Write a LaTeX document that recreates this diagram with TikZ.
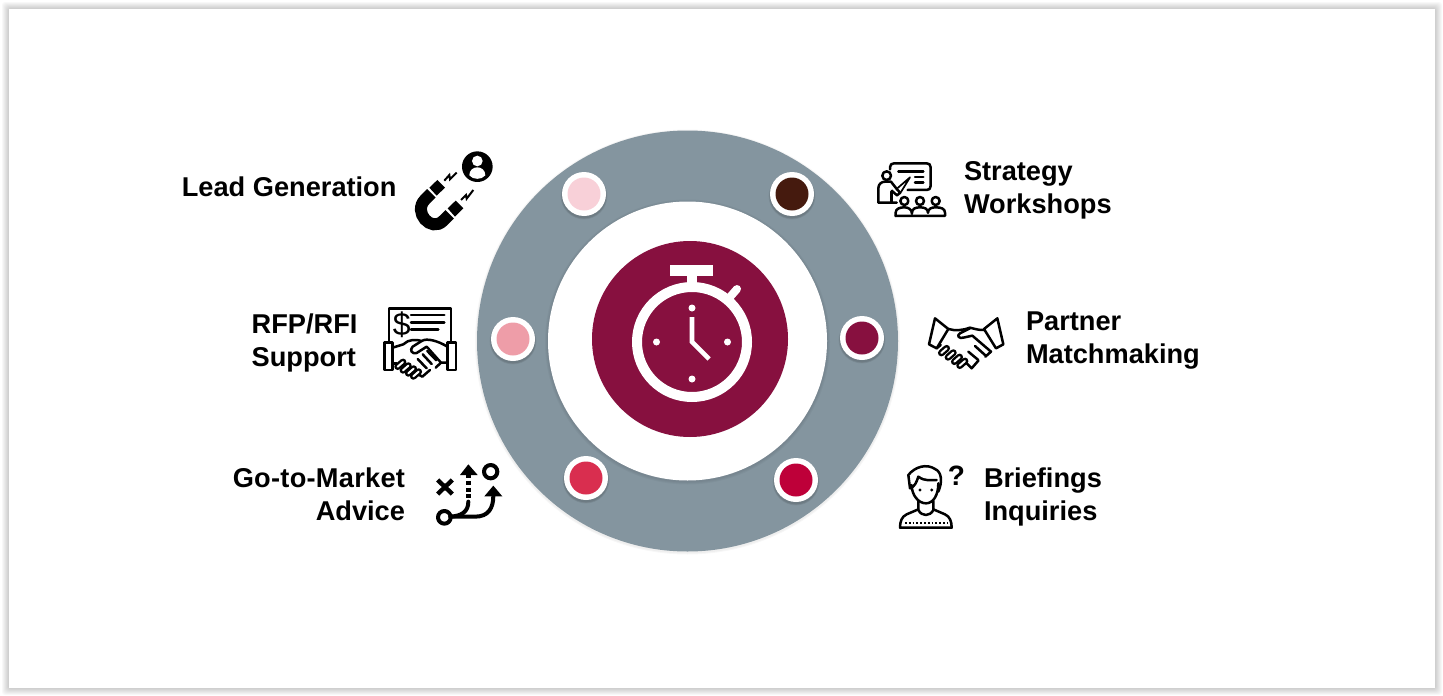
\documentclass[tikz,border=0pt]{standalone}
\usepackage{fontspec}
\setmainfont{Liberation Sans}
\begin{document}
\begin{tikzpicture}[x=1pt,y=-1pt,
  label/.style={font=\bfseries\fontsize{27.2}{33}\selectfont,inner sep=0pt,outer sep=0pt,text=black},
  dotwhite/.style={circle,fill=white,draw=none,minimum size=44pt,inner sep=0pt},
  dotcore/.style={circle,draw=none,minimum size=33pt,inner sep=0pt},
  ln/.style={line width=2.5pt,line cap=round,line join=round,draw=black},
  lnthin/.style={line width=1.7pt,line cap=round,line join=round,draw=black},
  lnthick/.style={line width=4pt,line cap=round,line join=round,draw=black},
  watch/.style={draw=white,line join=miter}]
\newcommand{\fingerlink}[2]{%
  \draw[black,line width=6.8pt,line cap=round] (#1-8,#2+7) -- (#1+8,#2-7);
  \draw[white,line width=2pt,line cap=round] (#1-8,#2+7) -- (#1+8,#2-7);}
\definecolor{ringgrey}{HTML}{84959F}
\definecolor{burg}{HTML}{87103F}
\definecolor{cA}{HTML}{F8D0D8}
\definecolor{cB}{HTML}{451A0E}
\definecolor{cC}{HTML}{87103F}
\definecolor{cD}{HTML}{EE9DA8}
\definecolor{cE}{HTML}{D92E4F}
\definecolor{cF}{HTML}{BE0039}
\useasboundingbox (0,0) rectangle (1443,696);
\fill[white] (0,0) rectangle (1443,696);
% page shadow
\foreach \d in {7,6,...,1}
  \fill[black,opacity=.028,rounded corners=3pt] (9-\d,9-\d) rectangle (1435+\d,688+\d);
\fill[white] (9,9) rectangle (1435,688);
% ring
\foreach \d in {2,1}
  \fill[black,opacity=.03] (687.5,342) circle[radius=210.5+\d];
\fill[ringgrey] (687.5,341) circle[radius=210.5];
\foreach \d in {3,2,1}
  \fill[black,opacity=.03] (687.5,342) circle[radius=139.5+\d];
\fill[white] (687.5,341) circle[radius=139.5];
\fill[burg] (690,339) circle[radius=98];
% stopwatch
\draw[watch,line width=10pt] (692,342) circle[radius=55];
\fill[white] (670,265) rectangle (713,276);
\fill[white] (687,275) rectangle (697,288);
\draw[white,line width=8pt,line cap=round] (730,297) -- (737,289);
\foreach \p in {(692,308),(692,379),(656.5,342),(727.5,342)} \fill[white] \p circle[radius=3.5];
\draw[watch,line width=4.6pt] (692,317) -- (692,342) -- (709,359);
% dots
\foreach \n/\px/\py/\c in {a/584/194/cA,b/792/194/cB,c/862/338/cC,d/513/339/cD,e/586/478/cE,f/796/480/cF}{
  \foreach \d in {4,3,2}
    \fill[black,opacity=.06] (\px,\py+2) circle[radius=21+\d*.6];
  \node[dotwhite] (w\n) at (\px,\py) {};
  \node[dotcore,fill=\c] (k\n) at (\px,\py) {};
}
% labels
\node[label,anchor=base east] (lead) at (396.5,196) {Lead Generation};
\node[label,anchor=west,align=left] (strat) at (964,190) {Strategy\\Workshops};
\node[label,anchor=west,align=left] (part) at (1026,340.5) {Partner\\Matchmaking};
\node[label,anchor=east,align=left] (rfp) at (357.5,343) {RFP/RFI\\Support};
\node[label,anchor=east,align=right] (gtm) at (405,494) {\addfontfeature{LetterSpace=1}Go-to-Market\\Advice};
\node[label,anchor=west,align=left] (brief) at (984,497) {Briefings\\Inquiries};
% magnet icon
\begin{scope}[shift={(400,140)},x=.3333pt,y=-.3333pt]
  \draw[black,line width=12pt,line cap=butt] (94,160) -- (75,179) .. controls (38,216) and (93,279) .. (130,242) -- (149,223);
  \fill[black] (88,143) -- (112,120) -- (135,143) -- (110,167) -- cycle;
  \fill[black] (143,205) -- (167,182) -- (190,205) -- (165,230) -- cycle;
  \draw[black,line width=2pt,line join=miter] (133,122) -- (148,105) -- (150,118) -- (170,98);
  \draw[black,line width=2pt,line join=miter] (183,180) -- (198,165) -- (200,176) -- (220,150);
  \fill[black] (232,80) circle[radius=46];
  \fill[white] (232,63) circle[radius=16];
  \fill[white] (208,106) .. controls (208,90) and (220,82) .. (232,82) .. controls (244,82) and (256,90) .. (256,106) .. controls (245,120) and (219,120) .. (208,106) -- cycle;
\end{scope}
% teaching icon
\begin{scope}[shift={(865,150)},x=.3333pt,y=-.3333pt]
  \draw[ln] (75,58) -- (75,52) .. controls (75,44) and (80,40) .. (87,40) -- (185,40) .. controls (192,40) and (197,44) .. (197,52) -- (197,108) .. controls (197,116) and (192,120) .. (185,120) -- (128,120);
  \draw[ln] (100,65) -- (175,65);
  \draw[ln] (150,81) -- (175,81);
  \draw[ln] (150,97) -- (175,97);
  \draw[ln] (65,77) circle[radius=13];
  \draw[ln] (95,158) -- (40,158) -- (40,115) .. controls (40,102) and (50,95) .. (60,95) -- (78,95) -- (96,118);
  \draw[ln] (96,118) -- (106,128) -- (96,136) -- (80,122);
  \draw[lnthin] (97,115) -- (135,82) -- (108,126);
  \draw[ln] (80,125) -- (80,155);
  \draw[ln] (118,153) circle[radius=12];
  \draw[ln] (165,153) circle[radius=12];
  \draw[ln] (212,153) circle[radius=12];
  \draw[ln] (92,198) -- (92,188) .. controls (92,176) and (105,172) .. (118,172) .. controls (130,172) and (141,178) .. (141,192);
  \draw[ln] (141,188) .. controls (141,176) and (152,172) .. (165,172) .. controls (178,172) and (189,176) .. (189,188);
  \draw[ln] (189,188) .. controls (189,176) and (200,172) .. (212,172) .. controls (228,172) and (240,176) .. (240,188) -- (240,198) -- (92,198);
\end{scope}
% RFP handshake icon
\begin{scope}[shift={(375,295)},x=.3333pt,y=-.3333pt]
  \draw[ln] (42,140) -- (42,40) -- (228,40) -- (228,140);
  \node[font=\fontsize{32}{32}\selectfont,inner sep=0pt] (dollar) at (80,89) {\$};
  \draw[ln] (108,60) -- (208,60);
  \draw[ln] (108,82) -- (208,82);
  \draw[ln] (108,103) -- (190,103);
  \draw[ln] (28,143) rectangle (53,225);
  \draw[ln] (217,143) rectangle (243,225);
  \draw[ln] (53,158) -- (85,148) .. controls (100,132) and (125,133) .. (140,138) .. controls (155,128) and (190,138) .. (217,155);
  \draw[ln] (140,138) -- (113,155) .. controls (103,165) and (110,178) .. (125,174) -- (155,155) -- (198,203) -- (217,203);
  \draw[ln] (198,203) -- (182,218);
  \draw[ln] (53,205) -- (66,205);
  \draw[ln] (128,192) -- (155,220);
  \draw[ln] (143,178) -- (170,207);
  \draw[ln] (157,168) -- (184,196);
  \fingerlink{76}{208}
  \fingerlink{92}{219}
  \fingerlink{108}{228}
  \fingerlink{123}{237}
  \draw[ln] (133,240) -- (142,245) -- (165,225);
\end{scope}
% partner handshake icon
\begin{scope}[shift={(920,305)},x=.3333pt,y=-.3333pt]
  \draw[ln] (45,40) -- (85,72) -- (50,130) -- (27,118) -- cycle;
  \draw[ln] (232,40) -- (192,72) -- (228,130) -- (250,118) -- cycle;
  \draw[ln] (85,72) .. controls (105,78) and (130,76) .. (150,68) .. controls (165,72) and (180,76) .. (192,75);
  \draw[ln] (150,70) -- (120,85) .. controls (108,92) and (118,102) .. (130,98) -- (157,92) -- (213,140) -- (196,155);
  \draw[ln] (145,140) -- (175,165);
  \draw[ln] (165,123) -- (195,150);
  \draw[ln] (50,130) -- (62,120);
  \fingerlink{72}{137}
  \fingerlink{92}{150}
  \fingerlink{111}{163}
  \fingerlink{127}{175}
  \draw[ln] (140,175) -- (155,190) -- (175,167);
\end{scope}
% go-to-market icon
\begin{scope}[shift={(425,455)},x=.3333pt,y=-.3333pt]
  \draw[black,line width=4.4pt] (38,75) -- (82,117);
  \draw[black,line width=4.4pt] (82,75) -- (38,117);
  \fill[black] (105,60) -- (130,28) -- (158,60) -- cycle;
  \draw[black,line width=4.4pt,dash pattern=on 4pt off 2.6pt] (130,58) -- (130,128);
  \draw[lnthick] (197,50) circle[radius=20];
  \draw[lnthick] (58,187) circle[radius=19];
  \draw[lnthick] (76,185) .. controls (110,183) and (130,170) .. (130,140);
  \draw[lnthick] (76,185) -- (150,185) .. controls (190,185) and (205,160) .. (205,122);
  \fill[black] (178,124) -- (205,92) -- (232,124) -- cycle;
\end{scope}
% briefing person icon
\begin{scope}[shift={(890,455)},x=.3333pt,y=-.3333pt]
  \node[font=\bfseries\fontsize{28}{28}\selectfont,inner sep=0pt] (qm) at (199,63) {?};
  \draw[ln] (60,100) -- (55,60) .. controls (75,35) and (110,25) .. (135,42) .. controls (155,50) and (158,80) .. (145,110);
  \draw[ln] (60,100) .. controls (75,95) and (80,80) .. (85,65) .. controls (105,80) and (125,75) .. (140,75);
  \draw[ln] (65,90) .. controls (65,120) and (85,145) .. (108,145) .. controls (130,145) and (145,120) .. (145,85);
  \draw[ln] (85,138) -- (85,165) .. controls (95,185) and (120,185) .. (130,165) -- (130,138);
  \draw[ln] (85,163) -- (50,178) .. controls (35,185) and (30,200) .. (30,218) -- (185,218) .. controls (185,200) and (180,185) .. (165,178) -- (130,163);
  \fill[black] (90,105) circle[radius=5];
  \fill[black] (125,105) circle[radius=5];
  \draw[black,line width=1.8pt,dash pattern=on 1.8pt off 2pt] (45,205) -- (175,205);
\end{scope}
\end{tikzpicture}
\end{document}
